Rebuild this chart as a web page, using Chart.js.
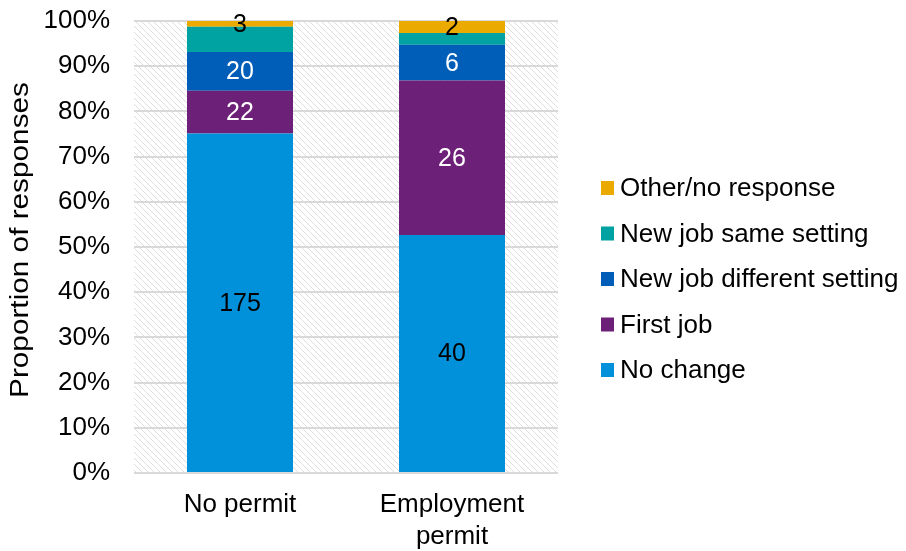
<!DOCTYPE html>
<html>
<head>
<meta charset="utf-8">
<script src="https://cdn.jsdelivr.net/npm/chart.js@4.4.1/dist/chart.umd.min.js"></script>
<style>
  html, body { margin: 0; padding: 0; background: #fff; }
  canvas { display: block; }
</style>
</head>
<body>
<canvas id="chart" width="906" height="551"></canvas>
<script>
// ---------- data ----------
const groups = ["No permit", ["Employment", "permit"]];

const seriesNames = ["No change", "First job", "New job different setting", "New job same setting", "Other/no response"];

// number of responses per group
const noChange   = [175, 40];
const firstJob   = [22, 26];
const newJobDiff = [20, 6];
const newJobSame = [13, 2];
const otherNone  = [3, 2];

const yTickMax  = 100;
const yTickStep = 10;
const yTitle = "Proportion of responses";

// ---------- styles ----------
const seriesColors = ["#0091DA", "#6D2077", "#005EB8", "#00A3A1", "#EAAA00"];
const labelColors  = ["#000", "#fff", "#fff", null, "#000"];   // null = no value label
const FONT = "'Liberation Sans', Arial, sans-serif";

const counts = [noChange, firstJob, newJobDiff, newJobSame, otherNone];
const totals = groups.map((g, i) => counts.reduce((s, arr) => s + arr[i], 0));

const datasets = counts.map((arr, k) => ({
    label: seriesNames[k],
    data: arr.map((v, i) => v / totals[i] * 100),
    counts: arr,
    backgroundColor: seriesColors[k],
    labelColor: labelColors[k],
    borderWidth: 0,
    barPercentage: 0.5,
    categoryPercentage: 1
}));

// diagonal hatch behind the plot area
function hatchPattern(ctx) {
    const s = 6;
    const c = document.createElement("canvas");
    c.width = s; c.height = s;
    const p = c.getContext("2d");
    p.strokeStyle = "rgba(200,200,200,0.6)";
    p.lineWidth = 1;
    p.beginPath();
    p.moveTo(-1, -1); p.lineTo(s + 1, s + 1);
    p.moveTo(-1, s - 1); p.lineTo(1, s + 1);
    p.moveTo(s - 1, -1); p.lineTo(s + 1, 1);
    p.stroke();
    return ctx.createPattern(c, "repeat");
}

const hatchBg = {
    id: "hatchBg",
    beforeDraw(chart) {
        const { ctx, chartArea: a } = chart;
        ctx.save();
        ctx.fillStyle = hatchPattern(ctx);
        ctx.fillRect(a.left, a.top, a.right - a.left, a.bottom - a.top);
        ctx.restore();
    }
};

// response counts written in the middle of each segment
const segmentLabels = {
    id: "segmentLabels",
    afterDatasetsDraw(chart) {
        const ctx = chart.ctx;
        ctx.save();
        ctx.font = "25px " + FONT;
        ctx.textAlign = "center";
        ctx.textBaseline = "middle";
        chart.data.datasets.forEach((ds, k) => {
            if (!ds.labelColor) return;
            chart.getDatasetMeta(k).data.forEach((bar, i) => {
                ctx.fillStyle = ds.labelColor;
                ctx.fillText(String(ds.counts[i]), bar.x, (bar.y + bar.base) / 2 + 1);
            });
        });
        ctx.restore();
    }
};

// legend on the right, top item = last series
const sideLegend = {
    id: "sideLegend",
    afterDraw(chart) {
        const ctx = chart.ctx;
        const a = chart.chartArea;
        const gap = 45.5;
        const n = chart.data.datasets.length;
        const x0 = a.right + 43;
        const yMid = 279;
        ctx.save();
        ctx.font = "26px " + FONT;
        ctx.textAlign = "left";
        ctx.textBaseline = "middle";
        chart.data.datasets.slice().reverse().forEach((ds, j) => {
            const y = yMid + (j - (n - 1) / 2) * gap;
            ctx.fillStyle = ds.backgroundColor;
            ctx.fillRect(x0, y - 7, 13, 14);
            ctx.fillStyle = "#000";
            ctx.fillText(ds.label, x0 + 19, y + 1);
        });
        ctx.restore();
    }
};

// rotated y title, a little stretched along its length
const yTitlePlugin = {
    id: "yTitle",
    afterDraw(chart) {
        const ctx = chart.ctx;
        ctx.save();
        ctx.translate(21, 240);
        ctx.rotate(-Math.PI / 2);
        ctx.scale(1.19, 1);
        ctx.font = "25px " + FONT;
        ctx.fillStyle = "#000";
        ctx.textAlign = "center";
        ctx.textBaseline = "middle";
        ctx.fillText(yTitle, 0, 0);
        ctx.restore();
    }
};

Chart.defaults.font.family = FONT;
Chart.defaults.color = "#000";

new Chart(document.getElementById("chart"), {
    type: "bar",
    data: { labels: groups, datasets: datasets },
    options: {
        responsive: false,
        animation: false,
        layout: { padding: { top: 21, right: 348, left: 0, bottom: 0 } },
        plugins: {
            legend: { display: false },
            tooltip: { enabled: false }
        },
        scales: {
            x: {
                stacked: true,
                grid: { display: false, drawTicks: false },
                border: { display: false },
                ticks: { font: { size: 26, lineHeight: 1.22 }, padding: 16, color: "#000" },
                afterFit(s) {
                    s.height = 78;
                    s.paddingLeft = 0; s.paddingRight = 0;
                }
            },
            y: {
                stacked: true,
                min: 0,
                max: yTickMax,
                ticks: {
                    stepSize: yTickStep,
                    padding: 24,
                    font: { size: 26 },
                    color: "#000",
                    callback: v => v + "%"
                },
                grid: { color: "#d9d9d9", lineWidth: 2, drawTicks: false },
                border: { display: false },
                afterFit(s) {
                    s.width = 134;
                    s.paddingTop = 0; s.paddingBottom = 0;
                }
            }
        }
    },
    plugins: [hatchBg, segmentLabels, sideLegend, yTitlePlugin]
});
</script>
</body>
</html>
